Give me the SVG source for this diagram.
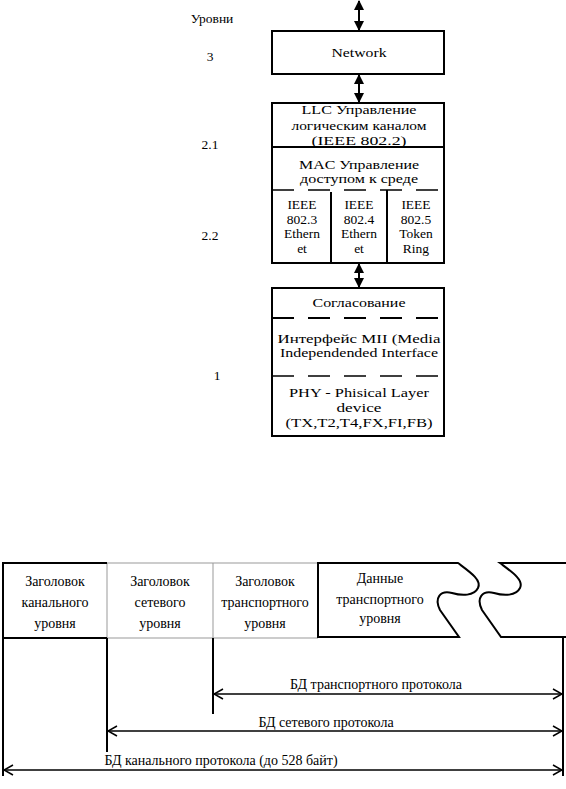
<svg xmlns="http://www.w3.org/2000/svg" width="566" height="789" viewBox="0 0 566 789" font-family="Liberation Serif, DejaVu Serif, serif">
<style>
text{fill:#000;text-anchor:middle}
.t{font-size:13.5px}
.b{font-size:14px}
.box{fill:#fff;stroke:#000;stroke-width:2}
.ln{stroke:#000;stroke-width:2;fill:none}
.thin{stroke:#999;stroke-width:1;fill:none}
.dash{stroke:#000;stroke-width:2;stroke-dasharray:22 14;fill:none}
.dash2{stroke:#000;stroke-width:1.3;stroke-dasharray:22 14;fill:none}
.arr{stroke:#000;stroke-width:2;fill:none;marker-start:url(#fa);marker-end:url(#fa)}
.dim{stroke:#000;stroke-width:1.5;fill:none;marker-start:url(#oa);marker-end:url(#oa)}
</style>
<defs>
<marker id="fa" viewBox="0 0 10 10" refX="9" refY="5" markerWidth="10" markerHeight="10" markerUnits="userSpaceOnUse" orient="auto-start-reverse">
<path d="M0,0 L10,5 L0,10 Z" fill="#000"/>
</marker>
<marker id="oa" viewBox="0 0 12 12" refX="11" refY="6" markerWidth="12" markerHeight="12" markerUnits="userSpaceOnUse" orient="auto-start-reverse">
<path d="M2,1 L11,6 L2,11" fill="none" stroke="#000" stroke-width="1.5"/>
</marker>
</defs>

<g id="levels">
<text class="t" x="212" y="23">Уровни</text>
<text class="t" x="210" y="61">3</text>
<text class="t" x="210" y="149">2.1</text>
<text class="t" x="210" y="240">2.2</text>
<text class="t" x="217" y="380">1</text>
</g>

<g id="connectors">
<line class="arr" x1="359" y1="1" x2="359" y2="30"/>
<line class="arr" x1="359" y1="75" x2="359" y2="102"/>
<line class="arr" x1="359" y1="264" x2="359" y2="287"/>
</g>

<g id="network">
<rect class="box" x="272" y="31" width="172" height="43"/>
<text class="t" x="359" y="57" textLength="55" lengthAdjust="spacingAndGlyphs">Network</text>
</g>

<g id="llc">
<rect class="box" x="272" y="103" width="172" height="160"/>
<text class="t" x="359" y="114" textLength="115" lengthAdjust="spacingAndGlyphs">LLC Управление</text>
<text class="t" x="359" y="130" textLength="135" lengthAdjust="spacingAndGlyphs">логическим каналом</text>
<text class="t" x="359" y="145" textLength="95" lengthAdjust="spacingAndGlyphs">(IEEE 802.2)</text>
<line class="ln" x1="272" y1="147" x2="444" y2="147"/>
</g>

<g id="mac">
<text class="t" x="359" y="169" textLength="120" lengthAdjust="spacingAndGlyphs">MAC Управление</text>
<text class="t" x="359" y="183" textLength="118" lengthAdjust="spacingAndGlyphs">доступом к среде</text>
<line class="dash2" x1="272" y1="190" x2="444" y2="190"/>
<line class="ln" x1="331" y1="192" x2="331" y2="263"/>
<line class="ln" x1="387" y1="190" x2="387" y2="263"/>
<g id="ieee3">
<text class="t" x="302" y="209">IEEE</text>
<text class="t" x="302" y="224">802.3</text>
<text class="t" x="302" y="238">Ethern</text>
<text class="t" x="302" y="253">et</text>
</g>
<g id="ieee4">
<text class="t" x="359" y="209">IEEE</text>
<text class="t" x="359" y="224">802.4</text>
<text class="t" x="359" y="238">Ethern</text>
<text class="t" x="359" y="253">et</text>
</g>
<g id="ieee5">
<text class="t" x="416" y="209">IEEE</text>
<text class="t" x="416" y="224">802.5</text>
<text class="t" x="416" y="238">Token</text>
<text class="t" x="416" y="253">Ring</text>
</g>
</g>

<g id="phy">
<rect class="box" x="272" y="288" width="172" height="148"/>
<text class="t" x="359" y="307" textLength="93" lengthAdjust="spacingAndGlyphs">Согласование</text>
<line class="dash" x1="272" y1="318" x2="444" y2="318"/>
<text class="t" x="359" y="343" textLength="163" lengthAdjust="spacingAndGlyphs">Интерфейс MII (Media</text>
<text class="t" x="359" y="357" textLength="158" lengthAdjust="spacingAndGlyphs">Independended Interface</text>
<line class="dash2" x1="272" y1="376" x2="444" y2="376"/>
<text class="t" x="359" y="397" textLength="140" lengthAdjust="spacingAndGlyphs">PHY - Phisical Layer</text>
<text class="t" x="359" y="412" textLength="45" lengthAdjust="spacingAndGlyphs">device</text>
<text class="t" x="359" y="427" textLength="147" lengthAdjust="spacingAndGlyphs">(TX,T2,T4,FX,FI,FB)</text>
</g>

<g id="frame">
<g id="h1">
<line class="thin" x1="107" y1="563" x2="107" y2="638"/>
<path class="ln" d="M107,563 L3,563 L3,638 L107,638"/>
<text class="b" x="55" y="586">Заголовок</text>
<text class="b" x="55" y="607">канального</text>
<text class="b" x="55" y="628">уровня</text>
</g>
<g id="h2">
<path class="thin" d="M107,563 L318,563 M107,638 L318,638 M213,563 L213,638"/>
<text class="b" x="160" y="586">Заголовок</text>
<text class="b" x="160" y="607">сетевого</text>
<text class="b" x="160" y="628">уровня</text>
</g>
<g id="h3">
<text class="b" x="265" y="586">Заголовок</text>
<text class="b" x="265" y="607">транспортного</text>
<text class="b" x="265" y="628">уровня</text>
</g>
<g id="data">
<path class="ln" d="M318,563 L458,563 C470,572 482,580 478,588 C474,596 462,596 452,593 C440,590 434,598 440,610 L459,637 L318,637 Z"/>
<path class="ln" d="M566,563 L500,563 C512,572 524,580 520,588 C516,596 504,596 494,593 C482,590 476,598 482,610 L501,637 L566,637"/>
<text class="b" x="380" y="583">Данные</text>
<text class="b" x="380" y="604">транспортного</text>
<text class="b" x="380" y="623">уровня</text>
</g>
</g>

<g id="spans">
<line class="ln" x1="3" y1="638" x2="3" y2="776"/>
<line class="ln" x1="107" y1="638" x2="107" y2="752"/>
<line class="ln" x1="213" y1="638" x2="213" y2="714"/>
<line class="ln" x1="563" y1="637" x2="563" y2="776"/>
<line class="dim" x1="214" y1="694" x2="562" y2="694"/>
<line class="dim" x1="108" y1="731" x2="562" y2="731"/>
<line class="dim" x1="4" y1="770" x2="562" y2="770"/>
<text class="b" x="376" y="689">БД транспортного протокола</text>
<text class="b" x="326" y="727">БД сетевого протокола</text>
<text class="b" x="221" y="765">БД канального протокола (до 528 байт)</text>
</g>
</svg>
